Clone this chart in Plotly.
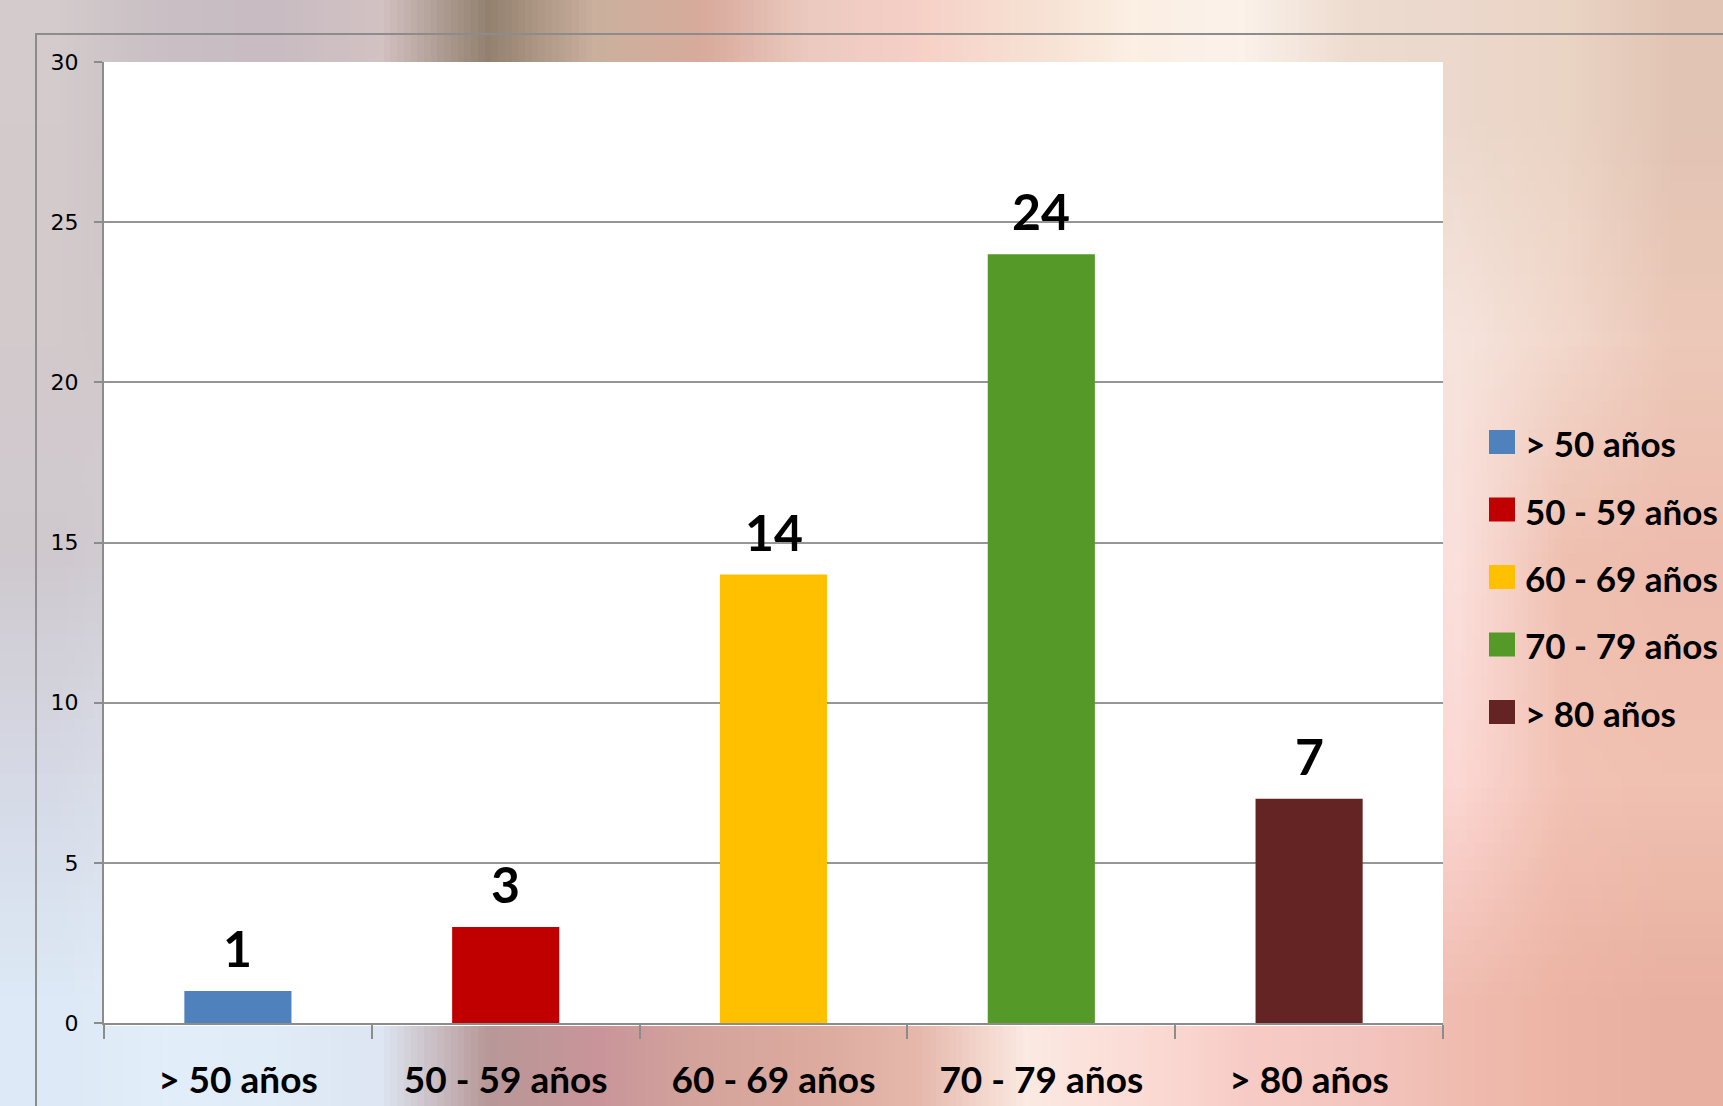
import base64, struct, zlib
import plotly.graph_objects as go

# ---------------- data ----------------
categories = ["> 50 años", "50 - 59 años", "60 - 69 años", "70 - 79 años", "> 80 años"]
values = [1, 3, 14, 24, 7]
bar_colors = ["#4f81bd", "#c00000", "#ffc000", "#559a28", "#632423"]
y_ticks = [0, 5, 10, 15, 20, 25, 30]

# ---------------- geometry (pixels) ----------------
W, H = 1723, 1106
PL, PR, PT, PB = 104, 1443, 62, 1023
PW, PH = PR - PL, PB - PT


def px(xp):
    return (xp - PL) / PW


def py(yp):
    return (PB - yp) / PH


# ---------------- blurred background (tiny PNG stretched) ----------------
bg_rows = [
    ["#d4cbcd", "#c9bfc4", "#c8bcc2", "#d2c2c2", "#93806f", "#cbb09e", "#d8ab9c", "#eccac0",
     "#f6d0c6", "#f6e0d2", "#fcefe4", "#fbf2ea", "#eedcd0", "#ecd8cc", "#ead4c4", "#e2c4b4"],
    ["#d3cacc", "#d0c6c8", "#d6cccc", "#e0d0cc", "#e4d0c8", "#e8d4cc", "#ecd8d0", "#f0dcd4",
     "#f4e0d8", "#f6e4dc", "#f8e8e0", "#f8e6de", "#f6e0d6", "#f6e4dc", "#f2d8cc", "#ecc8b8"],
    ["#cfc9cf", "#d4d0d6", "#dcd6da", "#e4dcdc", "#e8dcd8", "#ecdcd6", "#f0dcd6", "#f4dcd6",
     "#f6dcd6", "#f8dcd8", "#f8dcd8", "#f8dad6", "#f8d8d2", "#fbe0dc", "#efc0b0", "#eebcae"],
    ["#d6dae6", "#dce2ec", "#e0e6ee", "#e0dee6", "#dcccd0", "#e0c8c8", "#e4c8c4", "#ecd0c8",
     "#f2d8d0", "#f8e4dc", "#fae0da", "#f8d6d0", "#f6d0ca", "#fcd8d4", "#f2c2b4", "#f0c0b0"],
    ["#dde9f6", "#e2eef9", "#e0ecf8", "#dde6f2", "#b89898", "#c9959a", "#d4a49c", "#dcaa9e",
     "#e6b8ac", "#fbeae2", "#fcdcd6", "#f8ccc6", "#f4c6c0", "#f0bcb0", "#ecb4a4", "#e8b0a0"],
]


def hex2rgb(h):
    h = h.lstrip("#")
    return [int(h[i:i + 2], 16) for i in (0, 2, 4)]


def make_png(rows):
    h = len(rows)
    w = len(rows[0])
    raw = b""
    for r in rows:
        line = []
        for c in r:
            line += hex2rgb(c)
        raw += b"\x00" + bytes(line)

    def chunk(tag, data):
        c = struct.pack(">I", len(data)) + tag + data
        return c + struct.pack(">I", zlib.crc32(tag + data) & 0xFFFFFFFF)

    png = b"\x89PNG\r\n\x1a\n"
    png += chunk(b"IHDR", struct.pack(">IIBBBBB", w, h, 8, 2, 0, 0, 0))
    png += chunk(b"IDAT", zlib.compress(raw, 9))
    png += chunk(b"IEND", b"")
    return "data:image/png;base64," + base64.b64encode(png).decode()


bg_uri = make_png(bg_rows)

# ---------------- figure ----------------
fig = go.Figure()
fig.add_trace(go.Bar(
    x=categories,
    y=values,
    marker=dict(color=bar_colors, line=dict(width=0)),
    width=0.4,
    showlegend=False,
    hoverinfo="x+y",
))

annotations = []
# data labels
for c, v in zip(categories, values):
    annotations.append(dict(
        x=c, y=v, xref="x", yref="y", text=f"<b>{v}</b>", showarrow=False,
        yanchor="bottom", xanchor="center", yshift=11,
        font=dict(family="Lato", size=50, color="#000000"),
    ))

shapes = []
# outer frame (extends off the page to the right and bottom)
shapes.append(dict(type="rect", xref="paper", yref="paper",
                   x0=px(36), x1=px(W + 50), y0=py(34), y1=py(H + 50),
                   line=dict(color="#8c8c8c", width=2), fillcolor="rgba(0,0,0,0)",
                   layer="below"))
# white plot area
shapes.append(dict(type="rect", xref="paper", yref="paper",
                   x0=0, x1=1, y0=py(1026), y1=1,
                   line=dict(width=0), fillcolor="#ffffff", layer="below"))

# custom legend
leg_y0 = 442
leg_dy = 67.5
for i, (name, col) in enumerate(zip(categories, bar_colors)):
    yc = leg_y0 + leg_dy * i
    shapes.append(dict(type="rect", xref="paper", yref="paper",
                       x0=px(1489), x1=px(1515), y0=py(yc + 12), y1=py(yc - 12),
                       line=dict(width=0), fillcolor=col))
    annotations.append(dict(
        x=px(1523), y=py(yc + 1), xref="paper", yref="paper", text=f"<b>{name}</b>",
        showarrow=False, xanchor="left", yanchor="middle",
        font=dict(family="Lato", size=35, color="#000000"),
    ))

fig.update_layout(
    width=W, height=H,
    margin=dict(l=PL, r=W - PR, t=PT, b=H - PB, pad=0, autoexpand=False),
    paper_bgcolor="#e8d8d4",
    plot_bgcolor="rgba(0,0,0,0)",
    images=[dict(source=bg_uri, xref="paper", yref="paper",
                 x=px(0), y=py(0), sizex=W / PW, sizey=H / PH,
                 xanchor="left", yanchor="top", sizing="stretch", layer="below")],
    shapes=shapes,
    annotations=annotations,
    bargap=0.6,
    xaxis=dict(
        type="category",
        automargin=False,
        tickson="boundaries",
        ticks="outside", ticklen=14, tickwidth=1.5, tickcolor="#8c8c8c",
        showline=True, linecolor="#8c8c8c", linewidth=2,
        showgrid=False,
        tickfont=dict(family="Lato", size=37, color="#000000"),
        ticklabelstandoff=24,
        range=[-0.5, 4.5],
    ),
    yaxis=dict(
        automargin=False,
        range=[0, 30],
        tickvals=y_ticks,
        ticks="outside", ticklen=8, tickwidth=1.5, tickcolor="#8c8c8c",
        showline=True, linecolor="#8c8c8c", linewidth=2,
        showgrid=True, gridcolor="#969696", gridwidth=2,
        zeroline=False,
        tickfont=dict(family="DejaVu Sans", size=22, color="#000000"),
        ticklabelstandoff=11,
    ),
    font=dict(family="Lato"),
)

fig.update_xaxes(tickvals=categories, ticktext=[f"<b>{c}</b>" for c in categories])

fig.write_html("out.html", config={"displayModeBar": False},
               post_script="document.body.style.margin='0';document.body.style.overflow='hidden';")
